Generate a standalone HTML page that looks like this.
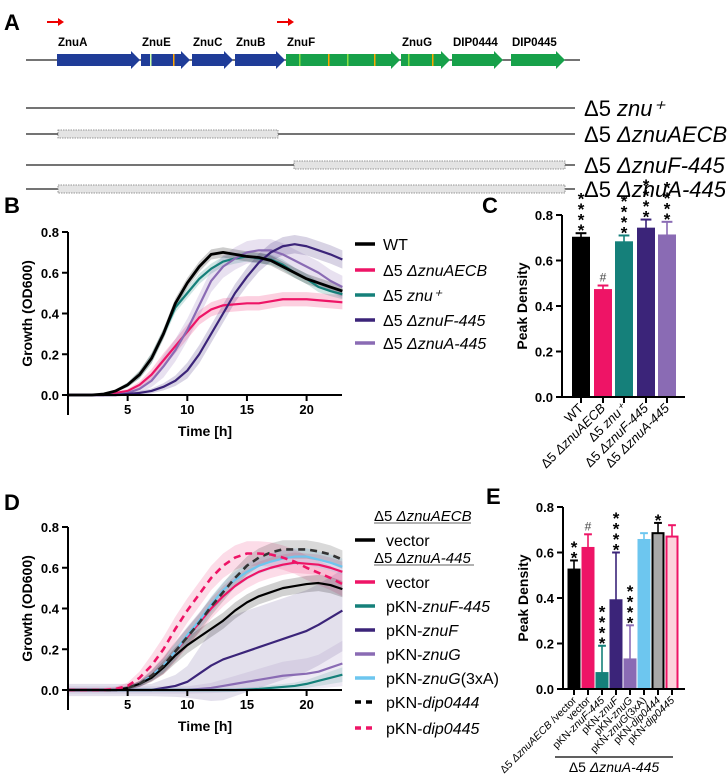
<!DOCTYPE html>
<html><head><meta charset="utf-8">
<style>
body{margin:0;background:#fff;}
svg{display:block;font-family:"Liberation Sans",Arial,sans-serif;}
.tk{font-size:13px;font-weight:bold;}
.tt{font-size:14px;font-weight:bold;}
.lg{font-size:16px;}
.pl{font-size:22px;font-weight:bold;}
.gn{font-size:11.5px;font-weight:bold;}
</style></head>
<body>
<svg id="fig" width="728" height="774" viewBox="0 0 728 774" xmlns="http://www.w3.org/2000/svg">
<g id="panelA"></g>
<g id="panelB"></g>
<g id="panelC"></g>
<g id="panelD"></g>
<g id="panelE"></g>
</svg>
<script>
// ---------- data ----------
const hours = [0,1,2,3,4,5,6,7,8,9,10,11,12,13,14,15,16,17,18,19,20,21,22,23];
const bNames = ["WT","AECB","znu+","F-445","A-445"];
const bWT   = [0,0,0,0.005,0.02,0.05,0.1,0.18,0.3,0.45,0.55,0.63,0.69,0.70,0.69,0.68,0.675,0.66,0.63,0.6,0.57,0.55,0.53,0.51];
const bAECB = [0,0,0,0,0.01,0.02,0.05,0.1,0.17,0.24,0.31,0.38,0.42,0.44,0.445,0.45,0.45,0.46,0.47,0.47,0.47,0.465,0.46,0.455];
const bZnu  = [0,0,0,0,0.02,0.05,0.1,0.18,0.3,0.43,0.5,0.57,0.62,0.655,0.67,0.68,0.67,0.665,0.64,0.6,0.57,0.53,0.51,0.495];
const bF445 = [0,0,0,0,0,0.005,0.01,0.02,0.04,0.07,0.12,0.2,0.3,0.4,0.5,0.58,0.65,0.7,0.73,0.74,0.73,0.71,0.69,0.665];
const bA445 = [0,0,0,0,0,0.01,0.03,0.07,0.14,0.22,0.32,0.44,0.56,0.63,0.67,0.7,0.71,0.71,0.69,0.66,0.63,0.6,0.56,0.53];
const bSD = [0.025,0.035,0.025,0.045,0.055];

const dVecAECB = [0,0,0,0,0,0.01,0.03,0.06,0.11,0.17,0.22,0.26,0.3,0.34,0.39,0.43,0.46,0.48,0.5,0.51,0.52,0.525,0.515,0.495];
const dVec     = [0,0,0,0,0,0.01,0.03,0.07,0.12,0.19,0.26,0.33,0.4,0.46,0.51,0.55,0.58,0.6,0.615,0.625,0.62,0.615,0.6,0.58];
const dF445    = [0,0,0,0,0,0,0,0,0,0,0,0,0,0,0,0.002,0.005,0.01,0.015,0.02,0.03,0.045,0.06,0.075];
const dF       = [0,0,0,0,0,0,0,0,0.01,0.02,0.04,0.08,0.12,0.15,0.17,0.19,0.21,0.23,0.25,0.27,0.29,0.32,0.355,0.39];
const dG       = [0,0,0,0,0,0,0,0,0,0,0,0.005,0.01,0.02,0.03,0.04,0.05,0.06,0.07,0.075,0.08,0.09,0.11,0.13];
const dG3xA    = [0,0,0,0,0,0.01,0.03,0.07,0.12,0.19,0.27,0.34,0.42,0.49,0.54,0.58,0.61,0.63,0.645,0.655,0.655,0.64,0.625,0.605];
const d444     = [0,0,0,0,0,0.01,0.03,0.07,0.12,0.19,0.26,0.33,0.41,0.48,0.55,0.61,0.65,0.675,0.69,0.69,0.69,0.68,0.665,0.64];
const d445     = [0,0,0,0,0.005,0.02,0.06,0.12,0.2,0.3,0.39,0.47,0.55,0.61,0.65,0.67,0.67,0.665,0.65,0.63,0.6,0.575,0.55,0.52];
const dSD = [0.04,0.05,0.06,0.2,0.12,0.04,0.045,0.06];

const cValues = [0.70,0.47,0.68,0.74,0.71];
const cErrors = [0.02,0.02,0.03,0.04,0.06];
const cMarks  = ["4","#","4","4","4"];

const eValues = [0.525,0.62,0.07,0.39,0.13,0.655,0.685,0.67];
const eErrors = [0.04,0.06,0.12,0.21,0.15,0.03,0.045,0.05];
const eMarks  = ["2","#","4","4","4","0","1","0"];

const yTicks = [0,0.2,0.4,0.6,0.8];
const yTickLabels = ["0.0","0.2","0.4","0.6","0.8"];
const xTicks = [5,10,15,20];

// ---------- helpers ----------
const NS="http://www.w3.org/2000/svg";
function mk(parent,tag,attrs,text){const e=document.createElementNS(NS,tag);for(const k in attrs)e.setAttribute(k,attrs[k]);if(text!==undefined)e.textContent=text;parent.appendChild(e);return e;}
const C={black:"#000",pink:"#ee1466",teal:"#15807a",dpur:"#3b2479",lpur:"#8a6bb4",lblue:"#6dc6ef",gray:"#a8a8a8",lpink:"#fcd3dc",blue:"#1f3c98",green:"#17a14a"};

// ---------- Panel A ----------
(function(){
const g=document.getElementById('panelA');
let t=mk(g,'text',{x:4,y:30,class:'pl'},'A');
mk(g,'line',{x1:26,y1:60,x2:580,y2:60,stroke:'#222','stroke-width':1.3});
const genes=[["ZnuA",57,140,C.blue],["ZnuE",141,190,C.blue],["ZnuC",192,233,C.blue],["ZnuB",235,285,C.blue],["ZnuF",286,400,C.green],["ZnuG",401,450,C.green],["DIP0444",452,503,C.green],["DIP0445",511,565,C.green]];
genes.forEach(gg=>{const [n,a,b,col]=gg;const h=Math.min(9,b-a-4);
 const p=mk(g,'polygon',{points:`${a},54 ${b-h},54 ${b-h},51 ${b},60 ${b-h},69 ${b-h},66 ${a},66`,fill:col});
 
 const l=mk(g,'text',{x:a+1,y:46,class:'gn'},n);});
[[150,'#cfa'],[173,'orange'],[299,'#8d4'],[328,'orange'],[347,'#8d4'],[374,'orange'],[408,'#8d4'],[432,'orange']].forEach(s=>mk(g,'rect',{x:s[0],y:54,width:1.5,height:12,fill:s[1]}));
[[47],[277]].forEach(s=>{mk(g,'line',{x1:s[0],y1:22,x2:s[0]+12,y2:22,stroke:'#e00','stroke-width':2});mk(g,'polygon',{points:`${s[0]+11},18 ${s[0]+17},22 ${s[0]+11},26`,fill:'#e00'});});
const rows=[[108,null,null,'znu⁺',false],[134,58,278,'ΔznuAECB',true],[165,294,565,'ΔznuF-445',true],[189,58,565,'ΔznuA-445',true]];
rows.forEach(r=>{mk(g,'line',{x1:26,y1:r[0],x2:575,y2:r[0],stroke:'#222','stroke-width':1.3});
 if(r[1]!==null){const b=mk(g,'rect',{x:r[1],y:r[0]-4,width:r[2]-r[1],height:8,fill:'#e4e4e4',stroke:'#777','stroke-width':0.8,'stroke-dasharray':'1.5,1'});}
 const tx=mk(g,'text',{x:584,y:r[0]+8,style:'font-size:22px'});
 mk(tx,'tspan',{},'Δ5 ');mk(tx,'tspan',{'font-style':'italic'},r[3]);});
})();

// ---------- line chart ----------
function lineChart(gid,y0,letterY,series,legend,legendX){
 const g=document.getElementById(gid);
 const X=h=>68+h*11.93, Y=v=>y0-v*(y0-(y0-163))/0.8;
 const L=mk(g,'text',{x:4,y:letterY,class:'pl'},gid==='panelB'?'B':'D');
 series.forEach(s=>{let up=hours.map((h,i)=>`${X(h)},${Y(s.v[i]+s.sd*Math.min(1,s.v[i]*6+0.15))}`);let dn=hours.map((h,i)=>`${X(h)},${Y(Math.max(s.v[i]-s.sd*Math.min(1,s.v[i]*6+0.15),gid==='panelD'?-0.06:-0.01))}`).reverse();
  const p=mk(g,'polygon',{points:up.concat(dn).join(' '),fill:s.c,opacity:s.op||0.2});});
 series.forEach(s=>{const p=mk(g,'polyline',{points:hours.map((h,i)=>`${X(h)},${Y(s.v[i])}`).join(' '),fill:'none',stroke:s.c,'stroke-width':s.w||2.2,'stroke-dasharray':s.dash||'none','stroke-linejoin':'round'});
  });
 const ya=mk(g,'line',{x1:68,y1:Y(0.8),x2:68,y2:y0+20,stroke:'#000','stroke-width':2});
 const xa=mk(g,'line',{x1:68,y1:y0,x2:342,y2:y0,stroke:'#000','stroke-width':2});
 yTicks.forEach((v,i)=>{mk(g,'line',{x1:62,y1:Y(v),x2:68,y2:Y(v),stroke:'#000','stroke-width':2});const t=mk(g,'text',{x:59,y:Y(v)+5,class:'tk','text-anchor':'end'},yTickLabels[i]);});
 xTicks.forEach(v=>{mk(g,'line',{x1:X(v),y1:y0,x2:X(v),y2:y0+6,stroke:'#000','stroke-width':2});const t=mk(g,'text',{x:X(v),y:y0+19,class:'tk','text-anchor':'middle'},String(v));});
 let t=mk(g,'text',{x:205,y:y0+41,class:'tt','text-anchor':'middle'},'Time [h]');
 t=mk(g,'text',{x:0,y:0,class:'tt','text-anchor':'middle',transform:`translate(32,${Y(0.4)}) rotate(-90)`},'Growth (OD600)');
 legend.forEach(e=>{const gg=mk(g,'g',{});
  if(e.head){const tx=mk(gg,'text',{x:374,y:e.y+5,style:'font-size:15px'});mk(tx,'tspan',{},'Δ5 ');mk(tx,'tspan',{'font-style':'italic'},e.head);mk(gg,'line',{x1:374,y1:e.y+7,x2:e.x2,y2:e.y+7,stroke:'#333','stroke-width':0.8});return;}
  mk(gg,'line',{x1:355,y1:e.y,x2:375,y2:e.y,stroke:e.c,'stroke-width':3.5,'stroke-dasharray':e.dash||'none'});
  const tx=mk(gg,'text',{x:legendX,y:e.y+6,class:'lg'});e.parts.forEach(p=>mk(tx,'tspan',p[1]?{'font-style':'italic'}:{},p[0]));});
}
lineChart('panelB',395,213,[
 {v:bAECB,c:C.pink,sd:bSD[1]},{v:bZnu,c:C.teal,sd:bSD[2]},{v:bA445,c:C.lpur,sd:bSD[4]},{v:bF445,c:C.dpur,sd:bSD[3]},{v:bWT,c:C.black,sd:bSD[0],w:2.8}
],[
 {y:244,c:C.black,parts:[["WT",0]]},{y:270,c:C.pink,parts:[["Δ5 ",0],["ΔznuAECB",1]]},{y:295,c:C.teal,parts:[["Δ5 ",0],["znu⁺",1]]},{y:320,c:C.dpur,parts:[["Δ5 ",0],["ΔznuF-445",1]]},{y:343,c:C.lpur,parts:[["Δ5 ",0],["ΔznuA-445",1]]}
],383);
lineChart('panelD',690,510,[
 {v:dF,c:C.dpur,sd:dSD[3],op:0.14},{v:dG,c:C.lpur,sd:dSD[4],op:0.14},{v:dF445,c:C.teal,sd:dSD[2],op:0.14},
 {v:d445,c:C.pink,sd:dSD[7],op:0.15},{v:dVec,c:C.pink,sd:dSD[1],op:0.15},{v:dG3xA,c:C.lblue,sd:dSD[5]},{v:d444,c:C.black,sd:dSD[6],op:0.15},{v:dVecAECB,c:C.black,sd:dSD[0],op:0.18},
 {v:d444,c:'#333',sd:0,op:0,dash:'7,5',w:2.6},{v:d445,c:C.pink,sd:0,op:0,dash:'7,5',w:2.6}
],[
 {y:516,head:'ΔznuAECB',x2:471},{y:540,c:C.black,parts:[["vector",0]]},{y:558,head:'ΔznuA-445',x2:474},{y:582,c:C.pink,parts:[["vector",0]]},
 {y:606,c:C.teal,parts:[["pKN-",0],["znuF-445",1]]},{y:630,c:C.dpur,parts:[["pKN-",0],["znuF",1]]},{y:654,c:C.lpur,parts:[["pKN-",0],["znuG",1]]},
 {y:678,c:C.lblue,parts:[["pKN-",0],["znuG",1],["(3xA)",0]]},{y:702,c:C.black,dash:'6,5',parts:[["pKN-",0],["dip0444",1]]},{y:728,c:C.pink,dash:'6,5',parts:[["pKN-",0],["dip0445",1]]}
],386);
(function(){const lines=document.querySelectorAll('#panelD polyline');lines.forEach((l,i)=>{if(i===3||i===6)l.setAttribute('stroke-opacity','0');});})();

// ---------- bar chart ----------
function barChart(gid,y0,ax,axEnd,centers,bw,vals,errs,marks,cols,fills,labels,fs,letter,letterX,letterY){
 const g=document.getElementById(gid);
 const Y=v=>y0-v*227.5;
 const L=mk(g,'text',{x:letterX,y:letterY,class:'pl'},letter);
 vals.forEach((v,i)=>{const cx=centers[i];
  mk(g,'line',{x1:cx,y1:Y(v),x2:cx,y2:Y(v+errs[i]),stroke:cols[i],'stroke-width':1.6});
  mk(g,'line',{x1:cx-bw*0.3,y1:Y(v+errs[i]),x2:cx+bw*0.3,y2:Y(v+errs[i]),stroke:cols[i],'stroke-width':2});
  const r=mk(g,'rect',{x:cx-bw/2+1,y:Y(v),width:bw-2,height:y0-Y(v),fill:fills[i],stroke:cols[i],'stroke-width':2});
  
  const m=marks[i];const top=Y(v+errs[i]);
  if(m==='#'){mk(g,'text',{x:cx,y:top-4,'text-anchor':'middle',style:'font-size:12px',fill:'#444'},'#');}
  else{for(let k=0;k<+m;k++)mk(g,'text',{x:cx,y:top+3-k*10.5,'text-anchor':'middle',style:'font-size:17px;font-weight:bold'},'*');}
  mk(g,'line',{x1:cx,y1:y0,x2:cx,y2:y0+6,stroke:'#000','stroke-width':2});
  const t=mk(g,'text',{x:0,y:0,'text-anchor':'end',style:`font-size:${fs}px`,transform:`translate(${cx+3},${y0+12}) rotate(-45)`});
  labels[i].forEach(p=>mk(t,'tspan',p[1]?{'font-style':'italic'}:{},p[0]));
  });
 const ya=mk(g,'line',{x1:ax,y1:Y(0.8),x2:ax,y2:y0,stroke:'#000','stroke-width':2});
 const xa=mk(g,'line',{x1:ax,y1:y0,x2:axEnd,y2:y0,stroke:'#000','stroke-width':2});
 yTicks.forEach((v,i)=>{mk(g,'line',{x1:ax-6,y1:Y(v),x2:ax,y2:Y(v),stroke:'#000','stroke-width':2});const t=mk(g,'text',{x:ax-9,y:Y(v)+5,class:'tk','text-anchor':'end'},yTickLabels[i]);});
 const t=mk(g,'text',{x:0,y:0,class:'tt','text-anchor':'middle',transform:`translate(${ax-35},${Y(0.4)}) rotate(-90)`},'Peak Density');
}
barChart('panelC',397,562,685,[581,603,624,646,667],18,cValues,cErrors,cMarks,
 [C.black,C.pink,C.teal,C.dpur,C.lpur],[C.black,C.pink,C.teal,C.dpur,C.lpur],
 [[["WT",0]],[["Δ5 ",0],["ΔznuAECB",1]],[["Δ5 ",0],["znu⁺",1]],[["Δ5 ",0],["ΔznuF-445",1]],[["Δ5 ",0],["ΔznuA-445",1]]],13,'C',482,213);
barChart('panelE',689,563,685,[574,588,602,616,630,644,658,672],13,eValues,eErrors,eMarks,
 [C.black,C.pink,C.teal,C.dpur,C.lpur,C.lblue,C.black,C.pink],[C.black,C.pink,C.teal,C.dpur,C.lpur,C.lblue,C.gray,C.lpink],
 [[["Δ5 ",0],["ΔznuAECB",1],[" /vector",0]],[["vector",0]],[["pKN-",0],["znuF-445",1]],[["pKN-",0],["znuF",1]],[["pKN-",0],["znuG",1]],[["pKN-",0],["znuG",1],["(3xA)",0]],[["pKN-",0],["dip0444",1]],[["pKN-",0],["dip0445",1]]],10.5,'E',486,504);
(function(){const g=document.getElementById('panelE');
 const l=mk(g,'line',{x1:555,y1:757,x2:673,y2:757,stroke:'#000','stroke-width':1.2});
 const t=mk(g,'text',{x:614,y:772,'text-anchor':'middle',style:'font-size:14px'});
 mk(t,'tspan',{},'Δ5 ');mk(t,'tspan',{'font-style':'italic'},'ΔznuA-445');})();
</script>
</body></html>
